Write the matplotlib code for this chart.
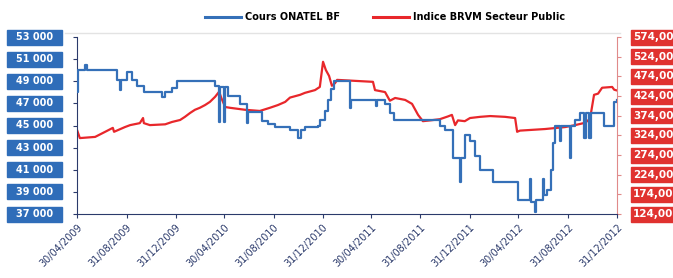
import pandas as pd
import numpy as np
import matplotlib
matplotlib.use('Agg')
import matplotlib.pyplot as plt
import matplotlib.dates as mdates
from matplotlib.patches import Rectangle
from matplotlib.lines import Line2D
from matplotlib.transforms import blended_transform_factory

# Cours ONATEL BF (left axis)
onatel_dates = ['2009-04-30', '2009-05-03', '2009-05-20', '2009-05-25', '2009-08-07', '2009-08-15',
                '2009-08-17', '2009-09-01', '2009-09-14', '2009-09-26', '2009-10-13', '2009-11-27',
                '2009-12-05', '2009-12-22', '2010-01-03', '2010-04-08', '2010-04-18', '2010-04-20',
                '2010-04-30', '2010-05-02', '2010-05-10', '2010-06-09', '2010-06-26', '2010-06-29',
                '2010-08-02', '2010-08-17', '2010-09-04', '2010-10-11', '2010-10-31', '2010-11-07',
                '2010-11-17', '2010-12-19', '2010-12-24', '2011-01-06', '2011-01-13', '2011-01-21',
                '2011-01-28', '2011-03-09', '2011-03-11', '2011-05-13', '2011-05-15', '2011-06-04',
                '2011-06-16', '2011-06-26', '2011-10-18', '2011-10-31', '2011-11-20', '2011-12-07',
                '2011-12-10', '2011-12-19', '2012-01-01', '2012-01-13', '2012-01-26', '2012-02-27',
                '2012-04-29', '2012-05-29', '2012-05-31', '2012-06-10', '2012-06-13', '2012-06-30',
                '2012-07-03', '2012-07-10', '2012-07-20', '2012-07-25', '2012-07-30', '2012-08-11',
                '2012-08-14', '2012-09-05', '2012-09-08', '2012-09-18', '2012-09-30', '2012-10-10',
                '2012-10-15', '2012-10-22', '2012-10-27', '2012-11-29', '2012-12-24', '2012-12-31']
onatel_values = [48000, 50000, 50500, 50000, 49100, 48200,
                 49100, 49800, 49100, 48600, 48000, 47600,
                 48000, 48400, 49000, 48600, 45300, 48500,
                 45300, 48500, 47700, 46900, 45200, 46200,
                 45400, 45100, 44900, 44600, 43900, 44600,
                 44900, 45000, 45500, 46300, 47300, 48300,
                 49000, 46600, 47300, 46800, 47300, 46900,
                 46100, 45500, 45000, 44600, 42100, 39900,
                 42100, 44100, 43600, 42200, 41000, 39900,
                 38300, 40200, 38100, 37200, 38300, 40200,
                 38700, 39200, 41000, 43400, 45000, 43600,
                 45000, 42100, 45000, 45500, 46100, 43900,
                 46100, 43900, 46100, 45000, 47100, 47300]

# Indice BRVM Secteur Public (right axis)
brvm_dates = ['2009-04-30', '2009-05-07', '2009-06-14', '2009-07-09', '2009-07-28', '2009-07-31',
              '2009-08-27', '2009-09-09', '2009-10-03', '2009-10-11', '2009-10-13', '2009-10-28',
              '2009-12-05', '2009-12-22', '2010-01-11', '2010-01-23', '2010-02-05', '2010-02-17',
              '2010-03-01', '2010-03-14', '2010-03-26', '2010-04-08', '2010-04-18', '2010-04-23',
              '2010-05-03', '2010-05-15', '2010-06-21', '2010-07-28', '2010-08-22', '2010-09-11',
              '2010-09-29', '2010-10-11', '2010-11-05', '2010-11-17', '2010-12-12', '2010-12-24',
              '2011-01-01', '2011-01-08', '2011-01-16', '2011-01-23', '2011-01-31', '2011-02-05',
              '2011-05-05', '2011-05-10', '2011-06-04', '2011-06-16', '2011-06-29', '2011-07-24',
              '2011-08-10', '2011-08-25', '2011-09-06', '2011-09-24', '2011-10-18', '2011-11-07',
              '2011-11-17', '2011-11-25', '2011-12-02', '2011-12-19', '2012-01-01', '2012-01-26',
              '2012-02-20', '2012-03-28', '2012-04-22', '2012-04-27', '2012-05-04', '2012-07-05',
              '2012-08-24', '2012-09-18', '2012-10-13', '2012-10-25', '2012-11-04', '2012-11-14',
              '2012-11-24', '2012-12-19', '2012-12-24', '2012-12-31']
brvm_values = [338, 317, 320, 333, 343, 333,
               345, 350, 355, 368, 355, 350,
               352, 358, 363, 371, 381, 389,
               394, 401, 409, 422, 435, 420,
               396, 394, 389, 386, 394, 401,
               409, 420, 427, 432, 439, 447,
               511, 490, 475, 450, 457, 465,
               460, 439, 434, 412, 419, 414,
               404, 376, 360, 362, 365, 372,
               376, 350, 362, 360, 368, 371,
               373, 371, 368, 333, 336, 340,
               345, 350, 356, 366, 427, 430,
               445, 447, 440, 438]

x_ticks = ['2009-04-30', '2009-08-31', '2009-12-31', '2010-04-30', '2010-08-31', '2010-12-31',
           '2011-04-30', '2011-08-31', '2011-12-31', '2012-04-30', '2012-08-31', '2012-12-31']
left_ticks = [37000, 39000, 41000, 43000, 45000, 47000, 49000, 51000, 53000]
right_ticks = [124, 174, 224, 274, 324, 374, 424, 474, 524, 574]

blue = '#3570B8'
red = '#E8272B'
navy = '#2B3A6B'

fig = plt.figure(figsize=(6.73, 2.78), dpi=100)
ax = fig.add_axes([77/673, 1 - 214/278, 540/673, 177/278])
ax2 = ax.twinx()

ax.plot(pd.to_datetime(onatel_dates), onatel_values, color=blue, lw=1.6, drawstyle='steps-post', zorder=3)
ax2.plot(pd.to_datetime(brvm_dates), brvm_values, color=red, lw=1.6, zorder=2)
ax.set_zorder(ax2.get_zorder() + 1)
ax.patch.set_visible(False)

ax.set_xlim(pd.Timestamp('2009-04-30'), pd.Timestamp('2012-12-31'))
ax.set_ylim(37000, 53000)
ax2.set_ylim(124, 574)
ax.set_xticks(pd.to_datetime(x_ticks))
ax.xaxis.set_major_formatter(mdates.DateFormatter('%d/%m/%Y'))
for lab in ax.get_xticklabels():
    lab.set_rotation(45)
    lab.set_ha('right')
    lab.set_rotation_mode('anchor')
    lab.set_fontsize(7)
    lab.set_color(navy)
ax.tick_params(axis='x', length=3, color=navy, pad=3)

ax.set_yticks(left_ticks)
ax.set_yticklabels([])
ax.tick_params(axis='y', length=3, color=navy)
ax2.set_yticks(right_ticks)
ax2.set_yticklabels([])
ax2.tick_params(axis='y', length=3, color='#E08A8A')

for s in ['top']:
    ax.spines[s].set_visible(False)
    ax2.spines[s].set_visible(False)
ax.spines['left'].set_color(navy)
ax.spines['bottom'].set_color(navy)
ax.spines['right'].set_visible(False)
ax2.spines['left'].set_visible(False)
ax2.spines['bottom'].set_visible(False)
ax2.spines['right'].set_color('#E08A8A')

# boxed tick labels
trl = blended_transform_factory(fig.transFigure, ax.transData)
trr = blended_transform_factory(fig.transFigure, ax2.transData)
hl = (53000 - 37000) * 15 / 177
hr = (574 - 124) * 15 / 177
for v in left_ticks:
    fig.patches.append(Rectangle((7/673, v - hl/2), 55/673, hl, transform=trl, color='#2F6DB9', clip_on=False))
    fig.text(34.5/673, v, f'{v // 1000} 000', transform=trl, color='white', fontsize=7,
             fontweight='bold', ha='center', va='center')
for v in right_ticks:
    fig.patches.append(Rectangle((631/673, v - hr/2), 50/673, hr, transform=trr, color='#E0322F', clip_on=False))
    fig.text(633/673, v, f'{v},00', transform=trr, color='white', fontsize=7.5,
             fontweight='bold', ha='left', va='center')

# faint top border line
fig.add_artist(Line2D([65/673, 620/673], [1 - 33/278, 1 - 33/278], color='#e3e3e3', lw=1))

handles = [Line2D([], [], color=blue, lw=2.2), Line2D([], [], color=red, lw=2.2)]
fig.legend(handles, ['Cours ONATEL BF', 'Indice BRVM Secteur Public'], loc='center',
           bbox_to_anchor=(385/673, 1 - 17/278), ncol=2, frameon=False,
           prop={'size': 7, 'weight': 'bold'}, handlelength=3.7, handletextpad=0.4,
           columnspacing=3.4)

fig.savefig('out.png', dpi=100)
